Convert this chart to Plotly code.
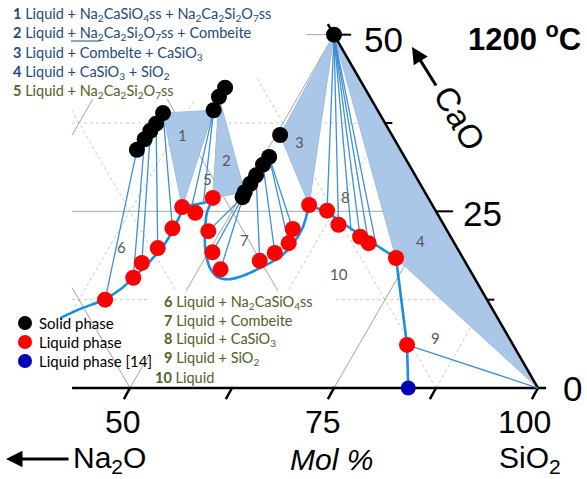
import math
import plotly.graph_objects as go

# ---------------- data (mol %, SiO2 and CaO; Na2O is the balance) ----------------
# solid phases
ncs_sio2 = [34.0, 34.2, 34.3, 34.5, 34.6]          # Na2CaSiO4 ss
ncs_cao = [33.7, 35.2, 36.4, 37.4, 38.9]
nc2s2_sio2 = [40.6, 40.3, 40.4]                    # Na2Ca2Si2O7 ss
nc2s2_cao = [39.3, 41.2, 42.5]
comb_sio2 = [50.3, 50.2, 50.3, 50.4, 50.5, 50.7, 50.5]   # combeite
comb_cao = [27.0, 27.7, 28.9, 30.1, 31.6, 32.7, 35.8]
cs_sio2 = [50.0]                                   # CaSiO3
cs_cao = [50.0]

# liquid phase compositions
liq_sio2 = [40.7, 42.6, 42.6, 43.5, 43.9, 43.6, 45.6, 46.7, 48.5, 50.5, 52.7,
            56.9, 58.2, 59.2, 58.7, 59.0, 61.6, 64.0, 67.5, 69.0, 73.4, 80.9]
liq_cao = [12.5, 15.6, 17.7, 19.8, 22.6, 25.6, 24.8, 26.9, 22.2, 19.2, 16.8,
           18.0, 19.1, 20.5, 22.5, 25.9, 25.1, 23.1, 21.4, 20.5, 18.4, 6.1]
# liquid phase, ref. [14]
ref_sio2 = [84.1]
ref_cao = [0.0]

# liquidus boundary segments
bound_segments = [
    ([36.5, 38.3, 40.5, 41.8, 42.6, 43.5, 44.1, 44.0, 43.8],
     [9.9, 11.2, 12.45, 13.9, 15.6, 18.0, 20.8, 23.5, 25.3], "spline"),
    ([43.6, 45.0, 46.0, 46.8], [25.6, 25.9, 26.2, 26.7], "linear"),
    ([46.8, 47.0, 48.0, 49.5, 51.3, 52.9, 54.5, 56.1, 57.6, 59.1, 59.8, 59.8, 59.0],
     [26.7, 24.9, 22.4, 19.5, 17.0, 15.7, 15.4, 16.0, 17.1, 18.5, 20.5, 22.8, 25.9], "spline"),
    ([59.0, 61.8, 64.8, 69.0, 73.4], [25.9, 24.8, 23.1, 20.8, 18.4], "spline"),
    ([73.4, 80.9, 84.1], [18.4, 6.1, 0.0], "linear"),
]

# tie lines: (SiO2, CaO) solid end -> (SiO2, CaO) liquid end
tie_from_sio2 = [34.0, 34.2, 34.3, 34.5, 34.6, 40.6, 40.6,
                 50.3, 50.3, 50.2, 50.4, 50.5, 50.7, 50.7,
                 50.0, 50.0, 50.0, 50.0, 50.0, 50.0, 80.9]
tie_from_cao = [33.7, 35.2, 36.4, 37.4, 38.9, 39.3, 39.3,
                27.0, 27.0, 27.7, 30.1, 31.6, 32.7, 32.7,
                50.0, 50.0, 50.0, 50.0, 50.0, 50.0, 6.1]
tie_to_sio2 = [40.7, 42.6, 42.6, 43.5, 43.9, 44.7, 45.9,
               48.5, 50.5, 52.7, 56.9, 58.2, 59.2, 58.7,
               61.6, 64.0, 66.0, 67.5, 69.0, 70.2, 100.0]
tie_to_cao = [12.5, 15.6, 17.7, 19.8, 22.6, 25.8, 26.2,
              22.2, 19.2, 16.8, 18.0, 19.1, 20.5, 22.5,
              25.1, 23.1, 22.2, 21.4, 20.5, 20.0, 0.0]

# three-phase triangles 1-4
tri_sio2 = [[34.6, 40.6, 43.6], [40.3, 50.2, 46.7], [50.5, 50.0, 59.0], [50.0, 73.4, 100.0]]
tri_cao = [[38.9, 39.3, 25.6], [41.2, 27.7, 26.9], [35.8, 50.0, 25.9], [50.0, 18.4, 0.0]]

grid_levels = [12.5, 25.0, 37.5, 50.0]
sio2_levels = [25.0, 37.5, 50.0, 62.5, 75.0, 87.5]

# ---------------- geometry helpers ----------------
W, H = 587, 479
K = 8.16                       # pixels per mol %
X0, Y1 = 34.07, 47.55          # data value at the left / top edge
X1, Y0 = X0 + W / K, Y1 - H / K
XCLIP = 42.9                   # left limit of the drawn diagram
S3 = math.sqrt(3) / 2


def proj(sio2, cao):
    return [s + c / 2 for s, c in zip(sio2, cao)], [c * S3 for c in cao]


def pd(x, y):
    """pixel position -> data coordinates"""
    return X0 + x / K, Y1 - y / K


def pp(x, y):
    """pixel position -> paper coordinates"""
    return x / W, 1 - y / H


fig = go.Figure()

# ---------------- ternary grid ----------------
def grid_line(p_sio2, p_cao, major):
    x, y = proj(p_sio2, p_cao)
    fig.add_trace(go.Scatter(
        x=x, y=y, mode="lines", hoverinfo="skip", showlegend=False,
        line=dict(color="#a6a6a6" if major else "#c8c8c8", width=1,
                  dash="solid" if major else "3px,3px")))


for c in grid_levels:                       # constant CaO
    grid_line([XCLIP - c / 2, 100 - c], [c, c], c % 25 == 0)
for s in sio2_levels:                       # constant SiO2
    c0 = max(0.0, 2 * (XCLIP - s))
    grid_line([s, s], [c0, 100 - s], s % 25 == 0)
for n in grid_levels:                       # constant Na2O
    c1 = min(100 - n, 2 * (100 - n - XCLIP))
    grid_line([100 - n, 100 - n - c1], [0, c1], n % 25 == 0)

# white backgrounds of the two text blocks
for poly in ([(0, 0), (306, 0), (306, 47), (256, 47), (256, 99), (0, 99)],
             [(150, 291), (333, 291), (333, 386), (150, 386)]):
    pts = [pd(*p) for p in poly]
    fig.add_trace(go.Scatter(
        x=[p[0] for p in pts], y=[p[1] for p in pts], fill="toself",
        fillcolor="white", mode="lines", line=dict(width=0, color="white"),
        hoverinfo="skip", showlegend=False))

# ---------------- three-phase triangles ----------------
for ts, tc in zip(tri_sio2, tri_cao):
    x, y = proj(ts + ts[:1], tc + tc[:1])
    fig.add_trace(go.Scatter(
        x=x, y=y, fill="toself", fillcolor="#aac7e8", mode="lines",
        line=dict(color="#9dbde2", width=1), hoverinfo="skip", showlegend=False))

# ---------------- axes of the diagram ----------------
ax_line = dict(color="black", width=2.5)
bx, by = proj([XCLIP, 101.0], [0, 0])
fig.add_trace(go.Scatter(x=bx, y=by, mode="lines", line=ax_line,
                         hoverinfo="skip", showlegend=False))
ex, ey = proj([100.0, 100 - 51.5], [0, 51.5])
fig.add_trace(go.Scatter(x=ex, y=ey, mode="lines", line=ax_line,
                         hoverinfo="skip", showlegend=False))
# ticks on the SiO2 axis
for s in [50, 62.5, 75, 87.5, 100]:
    fig.add_trace(go.Scatter(x=[s, s - 0.75], y=[0, -1.35], mode="lines",
                             line=dict(color="black", width=2.5),
                             hoverinfo="skip", showlegend=False))
# ticks on the CaO side
for c in grid_levels:
    xe = 100 - c / 2
    ln = 2.1 if c % 25 == 0 else 0.9
    fig.add_trace(go.Scatter(x=[xe, xe + ln], y=[c * S3, c * S3], mode="lines",
                             line=dict(color="black", width=2),
                             hoverinfo="skip", showlegend=False))

# ---------------- tie lines ----------------
for fs, fc, ts_, tc_ in zip(tie_from_sio2, tie_from_cao, tie_to_sio2, tie_to_cao):
    x, y = proj([fs, ts_], [fc, tc_])
    fig.add_trace(go.Scatter(x=x, y=y, mode="lines",
                             line=dict(color="#3f8fd9", width=1.3),
                             hoverinfo="skip", showlegend=False))

# ---------------- liquidus boundaries ----------------
for bs, bc, shape in bound_segments:
    x, y = proj(bs, bc)
    fig.add_trace(go.Scatter(x=x, y=y, mode="lines",
                             line=dict(color="#1a8fe0", width=2.6, shape=shape, smoothing=0.8),
                             hoverinfo="skip", showlegend=False))

# ---------------- phase points ----------------
sx, sy = proj(ncs_sio2 + nc2s2_sio2 + comb_sio2 + cs_sio2,
              ncs_cao + nc2s2_cao + comb_cao + cs_cao)
fig.add_trace(go.Scatter(x=sx, y=sy, mode="markers", name="Solid phase",
                         marker=dict(color="black", size=16), showlegend=False))
lx, ly = proj(liq_sio2, liq_cao)
fig.add_trace(go.Scatter(x=lx, y=ly, mode="markers", name="Liquid phase",
                         marker=dict(color="#ff0000", size=16), showlegend=False))
rx, ry = proj(ref_sio2, ref_cao)
fig.add_trace(go.Scatter(x=rx, y=ry, mode="markers", name="Liquid phase [14]",
                         marker=dict(color="#0000b4", size=15), showlegend=False))

# ---------------- text ----------------
ann = []
shapes = []


def text(x, y, s, size, color="black", anchor="left", family="Lato", angle=0):
    X, Y = pp(x, y)
    ann.append(dict(x=X, y=Y, xref="paper", yref="paper", text=s, showarrow=False,
                    xanchor=anchor, yanchor="middle", textangle=angle,
                    font=dict(size=size, color=color, family=family)))


NAVY = "#244a80"
GREEN = "#4f6228"
top_lines = [
    ("<b>1</b> Liquid + Na<sub>2</sub>CaSiO<sub>4</sub>ss + Na<sub>2</sub>Ca<sub>2</sub>Si<sub>2</sub>O<sub>7</sub>ss", NAVY),
    ("<b>2</b> Liquid + Na<sub>2</sub>Ca<sub>2</sub>Si<sub>2</sub>O<sub>7</sub>ss + Combeite", NAVY),
    ("<b>3</b> Liquid + Combelte + CaSiO<sub>3</sub>", NAVY),
    ("<b>4</b> Liquid + CaSiO<sub>3</sub> + SiO<sub>2</sub>", NAVY),
    ("<b>5</b> Liquid + Na<sub>2</sub>Ca<sub>2</sub>Si<sub>2</sub>O<sub>7</sub>ss", GREEN),
]
for i, (s, col) in enumerate(top_lines):
    text(11, 15 + 19 * i, s, 14.5, col)

low_lines = [
    "<b>6</b> Liquid + Na<sub>2</sub>CaSiO<sub>4</sub>ss",
    "<b>7</b> Liquid + Combeite",
    "<b>8</b> Liquid + CaSiO<sub>3</sub>",
    "<b>9</b> Liquid + SiO<sub>2</sub>",
]
for i, s in enumerate(low_lines):
    text(162, 302 + 18.7 * i, s, 14.5, GREEN)
text(153, 377, "<b>10</b> Liquid", 14.5, GREEN)

# marker key
for i, (lab, col) in enumerate([("Solid phase", "black"), ("Liquid phase", "#ff0000"),
                                ("Liquid phase [14]", "#0000b4")]):
    cy = 323 + 19 * i
    x0, y0 = pp(25 - 7, cy - 7)
    x1, y1 = pp(25 + 7, cy + 7)
    shapes.append(dict(type="circle", xref="paper", yref="paper", x0=x0, x1=x1,
                       y0=y1, y1=y0, fillcolor=col, line=dict(width=0)))
    text(37, cy, lab, 15, "black")

# field numbers
for lab, x, y in [("1", 182, 135), ("2", 226, 160), ("3", 299, 142), ("4", 420, 241),
                  ("5", 207, 179), ("6", 121, 247), ("7", 244, 240), ("8", 345, 197),
                  ("9", 435, 338), ("10", 339, 274)]:
    text(x, y, lab, 15, "#595959", anchor="center")

# axis numbers and titles
AR = "Liberation Sans, Arial"
text(362, 39, "50", 35, family=AR)
text(461, 213, "25", 35, family=AR)
text(561, 388, "0", 35, family=AR)
text(123, 422, "50", 32, anchor="center", family=AR)
text(323, 422, "75", 32, anchor="center", family=AR)
text(524, 422, "100", 32, anchor="center", family=AR)
text(71, 459, "Na<sub>2</sub>O", 30, family=AR)
text(331, 459, "<i>Mol %</i>", 30, anchor="center", family=AR)
text(530, 459, "SiO<sub>2</sub>", 30, anchor="center", family=AR)
text(466, 37, "<b>1200 <sup>o</sup>C</b>", 31, family=AR)
text(460, 118, "CaO", 33, anchor="center", family=AR, angle=60)

# arrows
for hx, hy, dx, dy in [(412, 47, 25, 40), (6, 459, 64, 0)]:
    X, Y = pp(hx, hy)
    ann.append(dict(x=X, y=Y, xref="paper", yref="paper", ax=dx, ay=dy, text="",
                    showarrow=True, arrowhead=2, arrowsize=1.1, arrowwidth=3,
                    arrowcolor="black"))

# stray underline in the legend
u0 = pp(71, 41)
u1 = pp(100, 41)
shapes.append(dict(type="line", xref="paper", yref="paper", x0=u0[0], x1=u1[0],
                   y0=u0[1], y1=u1[1], line=dict(color=NAVY, width=1)))

fig.update_layout(
    width=W, height=H, margin=dict(l=0, r=0, t=0, b=0),
    paper_bgcolor="white", plot_bgcolor="white", showlegend=False,
    xaxis=dict(range=[X0, X1], visible=False, fixedrange=True),
    yaxis=dict(range=[Y0, Y1], visible=False, fixedrange=True),
    annotations=ann, shapes=shapes,
)

fig.write_html("out.html")
